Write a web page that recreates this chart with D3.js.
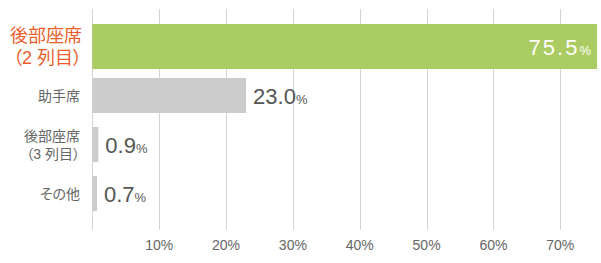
<!DOCTYPE html>
<html>
<head>
<meta charset="utf-8">
<script src="https://d3js.org/d3.v7.min.js"></script>
<style>
  body { margin: 0; background: #fff; }
  text { font-family: "Liberation Sans", Arial, "Noto Sans CJK JP", sans-serif; }
  .cat { font-feature-settings: "palt"; }
</style>
</head>
<body>
<div id="chart"></div>
<script>
// data
let categories = ["後部座席\n（2 列目）", "助手席", "後部座席\n（3 列目）", "その他"];
let values = [75.5, 23.0, 0.9, 0.7];
let ticks = [10, 20, 30, 40, 50, 60, 70];

let w = 601, h = 263;
let svg = d3.select("#chart").append("svg")
    .attr("width", w).attr("height", h);

let x = d3.scaleLinear().domain([0, 70]).range([92.3, 560.3]);
let y = d3.scaleBand().domain(d3.range(categories.length))
    .range([22, 218]).paddingInner(0.286).paddingOuter(0.143);

// gridlines
svg.append("g").selectAll("line")
    .data([0].concat(ticks))
    .enter().append("line")
    .attr("x1", d => Math.round(x(d)) + 0.5)
    .attr("x2", d => Math.round(x(d)) + 0.5)
    .attr("y1", 9).attr("y2", 230)
    .attr("stroke", "#d4d4d4").attr("stroke-width", 1);

// tick labels
svg.append("g").selectAll("text")
    .data(ticks)
    .enter().append("text")
    .attr("x", d => x(d))
    .attr("y", 250)
    .attr("text-anchor", "middle")
    .attr("font-size", "14px")
    .attr("fill", "#666")
    .text(d => d + "%");

// bars
svg.append("g").selectAll("rect")
    .data(values)
    .enter().append("rect")
    .attr("x", x(0))
    .attr("y", (d, i) => i == 0 ? y(i) - 5 : y(i))
    .attr("width", d => x(d) - x(0))
    .attr("height", (d, i) => i == 0 ? y.bandwidth() + 10 : y.bandwidth())
    .attr("fill", (d, i) => i == 0 ? "#abcc62" : "#cccccc");

// value labels
let vl = svg.append("g").selectAll("text")
    .data(values)
    .enter().append("text")
    .attr("x", (d, i) => i == 0 ? 591 : x(d) + 7)
    .attr("y", (d, i) => y(i) + y.bandwidth() / 2 + 8)
    .attr("text-anchor", (d, i) => i == 0 ? "end" : "start")
    .attr("fill", (d, i) => i == 0 ? "#fff" : "#555");
vl.append("tspan")
    .attr("font-size", "22px")
    .attr("letter-spacing", (d, i) => i == 0 ? "2px" : "0px")
    .text(d => d.toFixed(1));
vl.append("tspan")
    .attr("font-size", "13px")
    .text("%");

// category labels
svg.append("g").selectAll("text")
    .data(categories)
    .enter().append("text")
    .attr("class", "cat")
    .attr("text-anchor", "end")
    .attr("fill", (d, i) => i == 0 ? "#ea5e2c" : "#666")
    .attr("font-size", (d, i) => i == 0 ? "18px" : "14px")
    .each(function(d, i) {
        let lines = d.split("\n");
        let cy = y(i) + y.bandwidth() / 2;
        let lh = i == 0 ? 22 : 18;
        let fs = i == 0 ? 18 : 14;
        let t = d3.select(this);
        lines.forEach((l, k) => {
            t.append("tspan")
                .attr("x", i == 0 ? 82 : 80)
                .attr("y", cy + (k - (lines.length - 1) / 2) * lh + fs * 0.36)
                .text(l);
        });
    });
</script>
</body>
</html>
